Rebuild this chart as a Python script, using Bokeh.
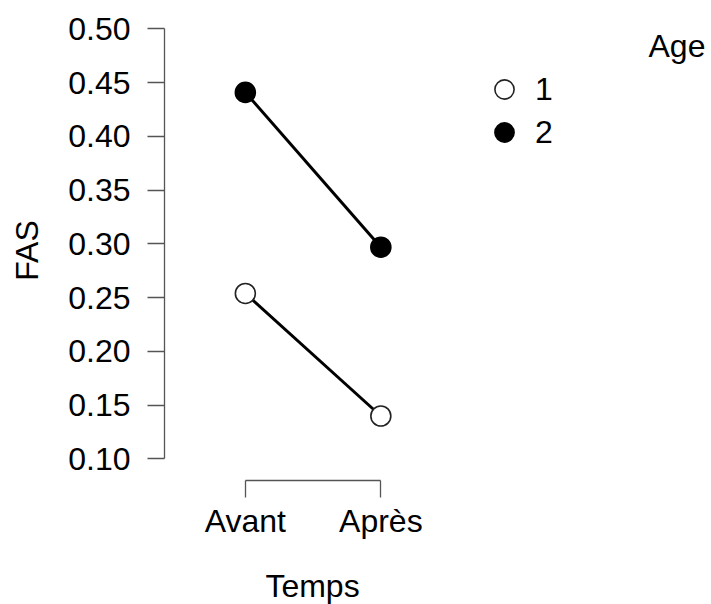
from bokeh.plotting import figure
from bokeh.layouts import column
from bokeh.models import Range1d, FixedTicker, LinearAxis, Legend, LegendItem, Label
from bokeh.embed import file_html
from bokeh.resources import INLINE

# ---- data ----
temps = ["Avant", "Après"]
age_levels = ["1", "2"]
fas_age1 = [0.254, 0.140]
fas_age2 = [0.441, 0.297]
y_ticks = [0.10, 0.15, 0.20, 0.25, 0.30, 0.35, 0.40, 0.45, 0.50]
y_tick_labels = ["0.10", "0.15", "0.20", "0.25", "0.30", "0.35", "0.40", "0.45", "0.50"]
x_title = "Temps"
y_title = "FAS"
legend_title = "Age"

FONT = "Liberation Sans"
FS = "32px"
xpos = [i + 1 for i in range(len(temps))]

p = figure(width=711, height=560, output_backend="svg", toolbar_location=None,
           x_range=Range1d(0.403, 4.441), y_range=Range1d(0.08, 0.5079),
           min_border_left=164, min_border_right=0, min_border_top=20,
           min_border_bottom=80, x_axis_location=None, y_axis_location=None)
p.outline_line_color = None
p.grid.visible = False
p.background_fill_color = "white"
p.border_fill_color = "white"

# y axis
yax = LinearAxis(ticker=FixedTicker(ticks=y_ticks), bounds=(y_ticks[0], y_ticks[-1]))
yax.major_label_overrides = {t: l for t, l in zip(y_ticks, y_tick_labels)}
yax.axis_label = y_title
p.add_layout(yax, "left")

# x axis
xax = LinearAxis(ticker=FixedTicker(ticks=xpos), bounds=(xpos[0], xpos[-1]))
xax.major_label_overrides = {x: t for x, t in zip(xpos, temps)}
p.add_layout(xax, "below")

for ax in (yax, xax):
    ax.axis_line_color = "#555555"
    ax.axis_line_width = 1.3
    ax.major_tick_line_color = "#555555"
    ax.major_tick_line_width = 1.3
    ax.major_tick_out = 17
    ax.major_tick_in = 0
    ax.minor_tick_line_color = None
    ax.major_label_text_font = FONT
    ax.major_label_text_font_size = FS
    ax.major_label_text_color = "black"
    ax.axis_label_text_font = FONT
    ax.axis_label_text_font_size = FS
    ax.axis_label_text_font_style = "normal"
    ax.axis_label_text_color = "black"

yax.major_label_standoff = 17
yax.axis_label_standoff = 20
xax.major_label_standoff = 5

# lines and points
p.line(xpos, fas_age1, line_color="black", line_width=3)
p.line(xpos, fas_age2, line_color="black", line_width=3)
r1 = p.scatter(xpos, fas_age1, size=20, marker="circle", fill_color="white",
               line_color="#222222", line_width=1.6)
r2 = p.scatter(xpos, fas_age2, size=20, marker="circle", fill_color="black",
               line_color="black", line_width=1.6)

# legend (one per entry so that markers keep their size)
for rend, lab, loc in ((r1, age_levels[0], (316, 367)), (r2, age_levels[1], (316, 324))):
    lg = Legend(items=[LegendItem(label=lab, renderers=[rend])], location=loc,
                glyph_width=48, glyph_height=48, label_standoff=7,
                label_text_font=FONT, label_text_font_size=FS,
                label_text_color="black", padding=0, margin=0, spacing=0,
                border_line_color=None, background_fill_alpha=0)
    p.add_layout(lg)

p.add_layout(Label(x=484, y=435, x_units="screen", y_units="screen", text=legend_title,
                   text_font=FONT, text_font_size=FS, text_color="black",
                   text_baseline="alphabetic"))

# strip below holding the x-axis title, centred under the two categories
p2 = figure(width=711, height=44, output_backend="svg", toolbar_location=None,
            x_range=Range1d(0, 1), y_range=Range1d(0, 1), min_border=0,
            x_axis_location=None, y_axis_location=None)
p2.outline_line_color = None
p2.grid.visible = False
p2.add_layout(Label(x=148, y=19, x_units="screen", y_units="screen", text=x_title,
                    text_font=FONT, text_font_size=FS, text_color="black",
                    text_align="center", text_baseline="alphabetic"))

layout = column(p, p2, spacing=0)
open("out.html", "w").write(file_html(layout, INLINE))
